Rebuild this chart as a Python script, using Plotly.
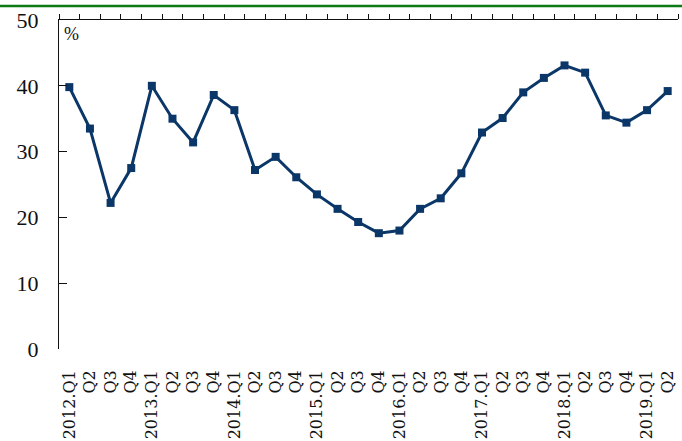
import plotly.graph_objects as go

categories = ["2012.Q1","Q2","Q3","Q4","2013.Q1","Q2","Q3","Q4","2014.Q1","Q2","Q3","Q4",
              "2015.Q1","Q2","Q3","Q4","2016.Q1","Q2","Q3","Q4","2017.Q1","Q2","Q3","Q4",
              "2018.Q1","Q2","Q3","Q4","2019.Q1","Q2"]
values = [39.8, 33.5, 22.2, 27.5, 40.0, 35.0, 31.4, 38.6, 36.3, 27.2, 29.2, 26.1,
          23.5, 21.3, 19.3, 17.6, 18.0, 21.3, 22.9, 26.7, 32.9, 35.1, 39.0, 41.2,
          43.1, 42.0, 35.5, 34.4, 36.3, 39.2]
y_ticks = [0, 10, 20, 30, 40, 50]

x_idx = list(range(len(categories)))
navy = "#0b3768"
serif = "Liberation Serif, Times New Roman, serif"

fig = go.Figure()
fig.add_trace(go.Scatter(
    x=x_idx, y=values, mode="lines+markers",
    line=dict(color=navy, width=3),
    marker=dict(symbol="square", size=8, color=navy),
    showlegend=False, hoverinfo="skip",
))

fig.update_layout(
    width=682, height=441,
    margin=dict(l=59, r=4, t=20, b=92),
    paper_bgcolor="white", plot_bgcolor="white",
    xaxis=dict(
        range=[-0.5, len(categories) - 0.5],
        tickmode="array", tickvals=x_idx, ticktext=categories,
        tickangle=-90, showline=False, showgrid=False, zeroline=False,
        ticks="", ticklabelstandoff=17,
        tickfont=dict(family="DejaVu Serif, serif", size=16, color="#111"),
        automargin=False,
    ),
    xaxis2=dict(
        overlaying="x", side="top", range=[-0.5, len(categories) - 0.5],
        tickmode="array", tickvals=[i - 0.5 for i in range(len(categories) + 1)],
        showticklabels=False, ticks="outside", ticklen=5, tickwidth=1.3,
        tickcolor="#111", showline=True, linecolor="#111", linewidth=1.3,
        showgrid=False, zeroline=False,
    ),
    yaxis=dict(
        range=[0, 50], tickmode="array", tickvals=y_ticks,
        ticks="inside", ticklen=8, tickwidth=1.3, tickcolor="#111",
        showline=True, linecolor="#111", linewidth=1.3,
        showgrid=False, zeroline=False, ticklabelstandoff=15,
        tickfont=dict(family=serif, size=22, color="#111"),
        automargin=False,
    ),
)
fig.add_trace(go.Scatter(x=[0], y=[None], xaxis="x2", showlegend=False, hoverinfo="skip"))

fig.add_annotation(
    x=0, y=1, xref="paper", yref="paper", xanchor="left", yanchor="top",
    xshift=3, yshift=-2, text="%", showarrow=False,
    font=dict(family=serif, size=18, color="#111"),
)
fig.add_shape(
    type="line", xref="paper", yref="paper",
    x0=-59 / 619, x1=1 + 4 / 619, y0=1 + 14 / 329, y1=1 + 14 / 329,
    line=dict(color="#0e7a16", width=2.5),
)

fig.write_html("out.html", config={"displayModeBar": False},
               post_script="document.body.style.margin='0';document.body.style.overflow='hidden';")
